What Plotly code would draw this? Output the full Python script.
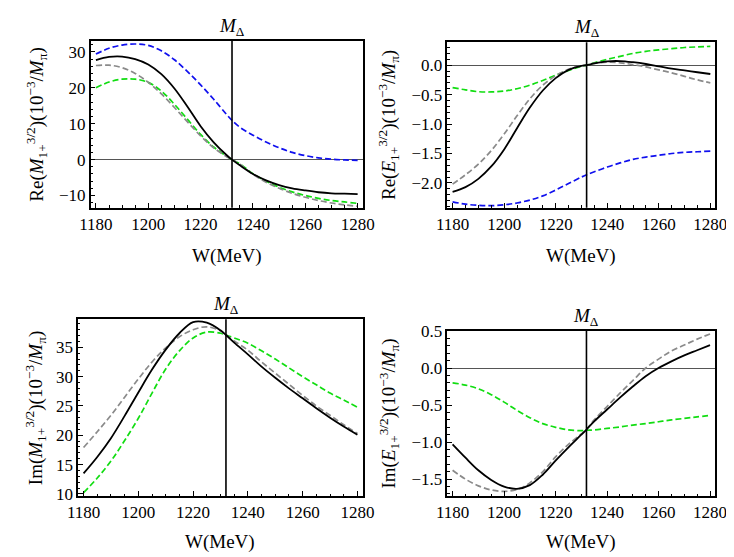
import plotly.graph_objects as go

W = [1180, 1185, 1190, 1195, 1200, 1205, 1210, 1215, 1220, 1225, 1230, 1232,
     1235, 1240, 1245, 1250, 1255, 1260, 1265, 1270, 1275, 1280]
M_DELTA = 1232

# Panel 1: Re(M1+ 3/2)
re_m_black = [27.7, 28.6, 28.7, 28.0, 26.5, 23.8, 19.8, 14.7, 9.3, 4.8, 1.2, 0.0,
              -1.6, -4.0, -5.8, -7.1, -8.0, -8.6, -9.1, -9.4, -9.5, -9.6]
re_m_gray = [26.2, 26.3, 25.6, 24.0, 21.5, 18.3, 14.5, 10.5, 6.6, 3.3, 0.8, 0.0,
             -1.3, -4.1, -6.3, -8.0, -9.4, -10.5, -11.4, -12.1, -12.6, -13.0]
re_m_green = [20.0, 21.6, 22.4, 22.4, 21.5, 19.1, 15.4, 11.2, 7.0, 3.5, 0.9, 0.0,
              -1.2, -3.9, -6.0, -7.7, -9.0, -10.0, -10.8, -11.4, -11.8, -12.2]
re_m_blue = [29.4, 31.0, 31.9, 32.2, 31.8, 30.3, 27.8, 24.5, 20.8, 16.8, 12.5, 10.9,
             9.0, 6.8, 4.9, 3.3, 2.0, 1.1, 0.5, 0.1, -0.1, -0.2]

# Panel 2: Re(E1+ 3/2)
re_e_black = [-2.15, -2.07, -1.93, -1.72, -1.43, -1.07, -0.72, -0.43, -0.22, -0.08, -0.01, 0.0,
              0.03, 0.065, 0.07, 0.05, 0.02, -0.02, -0.06, -0.09, -0.12, -0.15]
re_e_gray = [-2.02, -1.86, -1.68, -1.45, -1.17, -0.86, -0.57, -0.34, -0.18, -0.07, -0.01, 0.0,
             0.03, 0.05, 0.04, 0.01, -0.03, -0.08, -0.13, -0.19, -0.25, -0.30]
re_e_green = [-0.38, -0.42, -0.45, -0.455, -0.44, -0.40, -0.34, -0.26, -0.17, -0.09, -0.02, 0.0,
              0.04, 0.10, 0.15, 0.20, 0.235, 0.26, 0.28, 0.30, 0.31, 0.32]
re_e_blue = [-2.32, -2.36, -2.38, -2.385, -2.37, -2.34, -2.29, -2.22, -2.12, -2.01, -1.90, -1.86,
             -1.81, -1.73, -1.66, -1.60, -1.56, -1.53, -1.50, -1.48, -1.47, -1.46]

# Panel 3: Im(M1+ 3/2)
im_m_black = [13.5, 16.3, 19.5, 23.3, 27.3, 31.2, 34.6, 37.4, 39.3, 39.2, 37.9, 37.1,
              35.8, 33.8, 31.7, 29.8, 28.0, 26.3, 24.6, 23.0, 21.5, 20.1]
im_m_gray = [17.9, 20.6, 23.4, 26.5, 29.6, 32.5, 34.9, 36.8, 38.0, 38.5, 37.8, 37.1,
             36.1, 34.5, 32.5, 30.6, 28.7, 26.8, 25.0, 23.4, 21.8, 20.3]
im_m_green = [10.2, 12.7, 15.6, 19.1, 22.9, 27.2, 31.3, 34.4, 36.6, 37.6, 37.4, 37.1,
              36.6, 35.7, 34.4, 33.0, 31.5, 30.0, 28.6, 27.2, 26.0, 24.8]

# Panel 4: Im(E1+ 3/2)
im_e_black = [-1.03, -1.21, -1.38, -1.51, -1.60, -1.63, -1.58, -1.44, -1.25, -1.07, -0.90, -0.83,
              -0.72, -0.56, -0.40, -0.25, -0.11, 0.0, 0.09, 0.17, 0.24, 0.31]
im_e_gray = [-1.38, -1.50, -1.59, -1.645, -1.665, -1.64, -1.55, -1.40, -1.20, -1.03, -0.89, -0.83,
             -0.70, -0.52, -0.34, -0.17, 0.0, 0.12, 0.23, 0.31, 0.39, 0.46]
im_e_green = [-0.20, -0.23, -0.28, -0.36, -0.46, -0.57, -0.67, -0.75, -0.80, -0.835, -0.845, -0.84,
              -0.835, -0.815, -0.795, -0.77, -0.75, -0.725, -0.70, -0.68, -0.66, -0.64]

X_TICKS = [1180, 1200, 1220, 1240, 1260, 1280]

BLACK = "#000000"
GRAY = "#8a8a8a"
GREEN = "#11dd11"
BLUE = "#1010ee"
DASH = "6px,3px"
FONT = "Liberation Serif, Times New Roman, serif"

fig = go.Figure()

panels = [
    ("", [(re_m_blue, BLUE), (re_m_green, GREEN), (re_m_gray, GRAY), (re_m_black, BLACK)],
     [-13.4, 33.1], 10, 2, "d",
     "Re(<i>M</i><sub>1+</sub><sup>3/2</sup>)(10<sup>−3</sup>/<i>M</i><sub>π</sub>)",
     [74, 355], [24.5, 196.7], 18, 246.7, True),
    ("2", [(re_e_blue, BLUE), (re_e_green, GREEN), (re_e_gray, GRAY), (re_e_black, BLACK)],
     [-2.42, 0.39], 0.5, 0.1, ".1f",
     "Re(<i>E</i><sub>1+</sub><sup>3/2</sup>)(10<sup>−3</sup>/<i>M</i><sub>π</sub>)",
     [442.3, 719.0], [26, 196.7], 382, 246.7, True),
    ("3", [(im_m_green, GREEN), (im_m_gray, GRAY), (im_m_black, BLACK)],
     [9.6, 39.8], 5, 1, "d",
     "Im(<i>M</i><sub>1+</sub><sup>3/2</sup>)(10<sup>−3</sup>/<i>M</i><sub>π</sub>)",
     [61, 355], [311.7, 494.3], 17, 541.3, False),
    ("4", [(im_e_green, GREEN), (im_e_gray, GRAY), (im_e_black, BLACK)],
     [-1.73, 0.502], 0.5, 0.1, ".1f",
     "Im(<i>E</i><sub>1+</sub><sup>3/2</sup>)(10<sup>−3</sup>/<i>M</i><sub>π</sub>)",
     [442.3, 718.7], [323.7, 494.3], 382, 541.3, True),
]

FW, FH = 734, 557
annotations = []
shapes = []
layout = {}

for suf, series, yr, ydt, ymin, tfmt, ytitle, xd, yd, ytx, xty, zero in panels:
    xa = "x" + suf
    ya = "y" + suf
    for vals, col in series:
        fig.add_trace(go.Scatter(
            x=W, y=vals, xaxis=xa, yaxis=ya, mode="lines",
            line=dict(color=col, width=1.8 if col == BLACK else 1.7,
                      dash="solid" if col == BLACK else DASH,
                      shape="spline", smoothing=1.0),
            showlegend=False, hoverinfo="skip"))
    common = dict(showline=True, linewidth=1.5, linecolor="black", mirror=True,
                  ticks="inside", ticklen=5, tickwidth=1, tickcolor="black",
                  showgrid=False,
                  tickfont=dict(family=FONT, size=17, color="black"))
    layout["xaxis" + suf] = dict(
        common, domain=[xd[0] / FW, xd[1] / FW], range=[1178, 1282],
        tickvals=X_TICKS, zeroline=False, anchor=ya,
        minor=dict(dtick=5, tick0=1180, ticks="inside", ticklen=2.5,
                   tickcolor="black", tickwidth=1, showgrid=False))
    layout["yaxis" + suf] = dict(
        common, domain=[1 - yd[1] / FH, 1 - yd[0] / FH], range=yr,
        dtick=ydt, tick0=0, tickformat=tfmt, anchor=xa,
        zeroline=zero, zerolinecolor="#555555", zerolinewidth=1,
        minor=dict(dtick=ymin, tick0=0, ticks="inside", ticklen=2.5,
                   tickcolor="black", tickwidth=1, showgrid=False))
    shapes.append(dict(type="line", xref=xa, yref=ya + " domain",
                       x0=M_DELTA, x1=M_DELTA, y0=0, y1=1,
                       line=dict(color="black", width=1.6)))
    annotations.append(dict(text="<i>M</i><sub>Δ</sub>", xref=xa, yref=ya + " domain",
                            x=M_DELTA, y=1, xanchor="center", yanchor="bottom",
                            yshift=0, showarrow=False,
                            font=dict(family=FONT, size=19, color="black")))
    annotations.append(dict(text="W(MeV)", xref="paper", yref="paper",
                            x=(xd[0] + xd[1]) / 2 / FW, y=1 - xty / FH,
                            xanchor="center", yanchor="middle", showarrow=False,
                            font=dict(family=FONT, size=19, color="black")))
    annotations.append(dict(text=ytitle, xref="paper", yref="paper",
                            x=ytx / FW, y=1 - (yd[0] + yd[1]) / 2 / FH,
                            xanchor="center", yanchor="middle", textangle=-90,
                            showarrow=False,
                            font=dict(family=FONT, size=19, color="black")))

fig.update_layout(**layout)
fig.update_layout(width=FW, height=FH, margin=dict(l=0, r=0, t=0, b=0),
                  font=dict(family=FONT, size=17, color="black"),
                  paper_bgcolor="white", plot_bgcolor="white",
                  annotations=annotations, shapes=shapes)
fig.write_html("out.html")
